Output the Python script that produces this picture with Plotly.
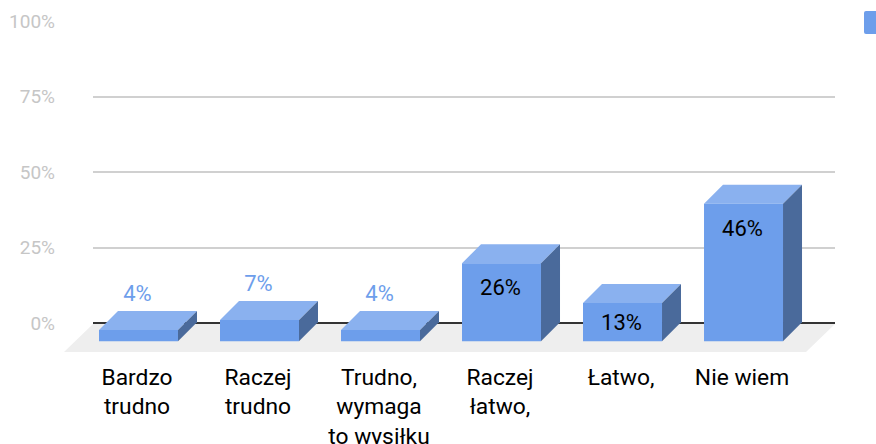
import plotly.graph_objects as go

categories = ["Bardzo<br>trudno", "Raczej<br>trudno", "Trudno,<br>wymaga<br>to wysiłku", "Raczej<br>łatwo,", "Łatwo,", "Nie wiem"]
values = [3.7, 7.0, 3.7, 25.8, 12.6, 45.5]
labels = ["4%", "7%", "4%", "26%", "13%", "46%"]
y_ticks = [0, 25, 50, 75, 100]
y_tick_labels = ["0%", "25%", "50%", "75%", "100%"]

FRONT = "#6d9eeb"
TOP = "#8ab1ef"
SIDE = "#4a6a9b"
FLOOR = "#eeeeee"

PX_X = 121.0            # pixels per category
YMIN, YMAX = -9.6, 100.33
PX_Y = 332 / (YMAX - YMIN)  # pixels per percent
BAR_W = 79 / PX_X
BASE = -6.0             # front bottom edge of the bars, in axis units
DX = 19 / PX_X          # depth of the bars
DY = 19 / PX_Y
XMIN, XMAX = -0.376, 5.756
PW, PH = 742, 332       # plot area size in pixels


def px(x):
    return (x - 93) / PW


def py(y):
    return (352 - y) / PH


fig = go.Figure()

# floor (paper-referenced so it may overhang the plot area on the left)
fig.add_shape(
    type="path", xref="paper", yref="paper", layer="below",
    path=f"M {px(93)} {py(324)} L {px(835)} {py(324)} L {px(806)} {py(352)} L {px(64)} {py(352)} Z",
    line=dict(width=0), fillcolor=FLOOR)

# bars
for i, v in enumerate(values):
    l, r = i - BAR_W / 2, i + BAR_W / 2
    t = BASE + v
    fig.add_trace(go.Scatter(
        x=[l, r, r + DX, l + DX, l], y=[t, t, t + DY, t + DY, t],
        mode="lines", fill="toself", fillcolor=TOP, line=dict(width=0),
        hoverinfo="skip", showlegend=False, cliponaxis=False))
    fig.add_trace(go.Scatter(
        x=[r, r + DX, r + DX, r, r], y=[BASE, BASE + DY, t + DY, t, BASE],
        mode="lines", fill="toself", fillcolor=SIDE, line=dict(width=0),
        hoverinfo="skip", showlegend=False, cliponaxis=False))
    fig.add_trace(go.Scatter(
        x=[l, r, r, l, l], y=[BASE, BASE, t, t, BASE],
        mode="lines", fill="toself", fillcolor=FRONT, line=dict(width=0),
        hoverinfo="skip", showlegend=False, cliponaxis=False))

# data labels
text_y = []
text_colors = []
for v in values:
    if v < 10:
        text_y.append(BASE + v + DY + 15 / PX_Y)
        text_colors.append(FRONT)
    else:
        text_y.append(BASE + v - min(v * 0.5, 8.2) - 2 / PX_Y)
        text_colors.append("#000000")
fig.add_trace(go.Scatter(
    x=[i - 1 / PX_X for i in range(len(values))], y=text_y, text=labels,
    mode="text", textposition="middle center",
    textfont=dict(family="Roboto", size=22, color=text_colors),
    hoverinfo="skip", showlegend=False, cliponaxis=False))

# legend swatch (cut off by the right edge, as in the source image)
fig.add_shape(
    type="path", xref="paper", yref="paper", layer="above",
    path=f"M {px(880)} {py(11)} L {px(866)} {py(11)} Q {px(864)} {py(11)} {px(864)} {py(13)} "
         f"L {px(864)} {py(32)} Q {px(864)} {py(34)} {px(866)} {py(34)} L {px(880)} {py(34)} Z",
    line=dict(width=0), fillcolor=FRONT)

fig.update_layout(
    width=876, height=444,
    margin=dict(l=93, r=41, t=20, b=92, pad=0, autoexpand=False),
    paper_bgcolor="white", plot_bgcolor="rgba(0,0,0,0)",
    showlegend=False,
    font=dict(family="Roboto"),
    xaxis=dict(
        range=[XMIN, XMAX], tickmode="array",
        tickvals=[i - 1.5 / PX_X for i in range(len(categories))],
        ticktext=categories, showgrid=False, zeroline=False, showline=False,
        ticks="", ticklabelstandoff=9, tickangle=0,
        tickfont=dict(family="Roboto", size=22.8, color="#000000")),
    yaxis=dict(
        range=[YMIN, YMAX], tickmode="array", tickvals=y_ticks, ticktext=y_tick_labels,
        showgrid=True, gridcolor="#d0d0d0", gridwidth=2, zeroline=True,
        zerolinecolor="#333333", zerolinewidth=2, showline=False,
        ticks="", ticklabelstandoff=37,
        tickfont=dict(family="Roboto", size=19, color="#c6c6c6")),
)

fig.write_html("out.html", config={"displayModeBar": False},
               post_script="document.body.style.margin='0';document.body.style.overflow='hidden';")
